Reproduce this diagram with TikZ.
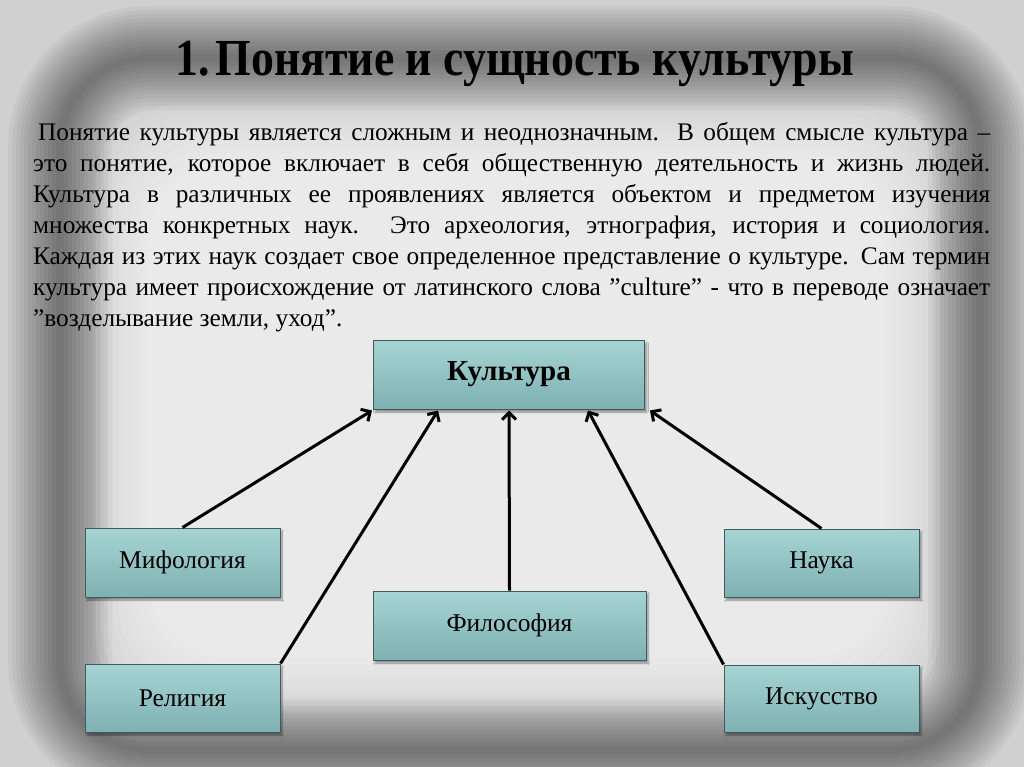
\documentclass[tikz,border=0pt]{standalone}
\usepackage{fontspec}
\setmainfont{Liberation Serif}
\usetikzlibrary{arrows.meta,shadows.blur,calc}
\definecolor{bgout}{RGB}{208,208,208}
\definecolor{boxtop}{RGB}{166,212,212}
\definecolor{boxbot}{RGB}{126,177,178}
\definecolor{boxline}{RGB}{66,90,90}
\begin{document}
\begin{tikzpicture}[x=1pt,y=-1pt,
  box/.style={draw=boxline, line width=1pt, top color=boxtop, bottom color=boxbot,
    inner sep=0pt, font=\fontsize{25.5}{25.5}\selectfont, text=black,
    blur shadow={shadow blur steps=6, shadow xshift=2pt, shadow yshift=-3pt, shadow opacity=40}},
  arr/.style={line width=3pt, black, -{Straight Barb[length=7pt,width=14pt]}}]
\useasboundingbox (0,0) rectangle (1024,767);
\fill[bgout] (0,0) rectangle (1024,767);
\foreach \w in {8,16,...,104}
  \draw[black, opacity=0.04, line width=\w pt, rounded corners=90pt] (60,58) rectangle (980,750);
\foreach \d in {0,6,...,54}
  \fill[white, opacity=0.09, rounded corners=80pt] (95+\d,105+\d) rectangle (940-\d,712-\d);

\node[font=\fontsize{52}{52}\selectfont\bfseries] (title) at (515,64)
  {\scalebox{0.88}[1]{1.\hspace{6pt}Понятие и сущность культуры}};

\node[anchor=north west, inner sep=0pt, text width=957pt, align=justify,
  font=\fontsize{25.3}{31}\selectfont] (body) at (33,122)
{\hspace*{5pt}Понятие культуры является сложным и неоднозначным. В общем смысле культура –\linebreak
это понятие, которое включает в себя общественную деятельность и жизнь людей.\linebreak
Культура в различных ее проявлениях является объектом и предметом изучения\linebreak
множества конкретных наук. Это археология, этнография, история и социология.\linebreak
Каждая из этих наук создает свое определенное представление о культуре. Сам термин\linebreak
культура имеет происхождение от латинского слова "culture" - что в переводе означает\linebreak
"возделывание земли, уход".};

\node[box, minimum width=271pt, minimum height=69pt, font=\fontsize{29}{29}\selectfont\bfseries] (k) at (509,374.5) {Культура};
\node[box, minimum width=195pt, minimum height=69pt] (m) at (182.5,562.5) {Мифология};
\node[box, minimum width=195pt, minimum height=68pt] (n) at (821.5,563) {Наука};
\node[box, minimum width=273pt, minimum height=69pt] (f) at (509.5,625.5) {Философия};
\node[box, minimum width=195pt, minimum height=68pt] (r) at (182.5,698) {Религия};
\node[box, minimum width=195pt, minimum height=67pt] (i) at (821.5,698.5) {Искусство};

\draw[arr] (m.north) -- ($(k.south west)+(-1,1)$);
\draw[arr] (r.north east) -- ($(k.south west)+(65,1)$);
\draw[arr] (f.north) -- ($(k.south)+(0,1)$);
\draw[arr] (i.north west) -- ($(k.south east)+(-57,1)$);
\draw[arr] (n.north) -- ($(k.south east)+(5,1)$);
\end{tikzpicture}
\end{document}
